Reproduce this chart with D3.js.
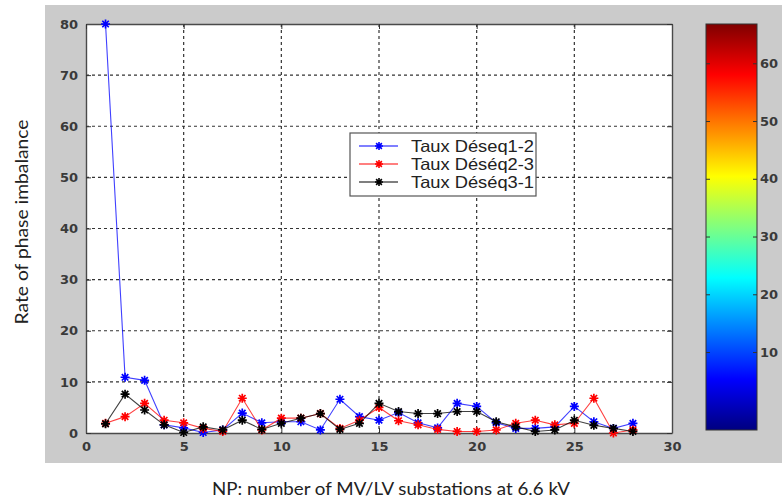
<!DOCTYPE html>
<html>
<head>
<meta charset="utf-8">
<script src="https://cdn.jsdelivr.net/npm/d3@7"></script>
<style>
  html, body { margin: 0; padding: 0; background: #ffffff; }
  svg { display: block; }
  .tick text { font-family: "DejaVu Sans", Verdana, sans-serif; font-weight: bold; }
</style>
</head>
<body>
<svg id="chart" width="782" height="504"></svg>
<script>
// Substation index (NP) on the horizontal axis
const stations = d3.range(1, 29);

// Phase imbalance rates (%) for each pair of phases
const deseq12 = [80, 10.9, 10.3, 1.6, 1.0, 0.1, 0.6, 3.9, 2.0, 2.2, 2.2, 0.6, 6.6, 3.2, 2.5, 4.0, 2.0, 1.0, 5.8, 5.2, 2.0, 0.9, 0.9, 1.2, 5.2, 2.2, 0.9, 1.9];
const deseq23 = [1.9, 3.2, 5.8, 2.5, 2.0, 0.9, 0.3, 6.8, 0.6, 2.9, 2.9, 3.8, 0.9, 2.5, 5.0, 2.4, 1.6, 0.7, 0.3, 0.3, 0.6, 1.9, 2.5, 1.6, 1.9, 6.8, 0.0, 0.6];
const deseq31 = [1.8, 7.6, 4.5, 1.6, 0.1, 1.2, 0.6, 2.5, 0.7, 1.9, 2.9, 3.8, 0.7, 1.9, 5.8, 4.2, 3.8, 3.8, 4.2, 4.2, 2.2, 1.2, 0.3, 0.6, 2.5, 1.5, 0.9, 0.3];

const seriesNames = ["Taux Déseq1-2", "Taux Déséq2-3", "Taux Déséq3-1"];
const seriesColors = ["#0000ff", "#ff0000", "#000000"];
const seriesValues = [deseq12, deseq23, deseq31];

const xTicks = [0, 5, 10, 15, 20, 25, 30];
const yTicks = [0, 10, 20, 30, 40, 50, 60, 70, 80];
const cbTicks = [10, 20, 30, 40, 50, 60];
const cbDomain = [-3.5, 66.8];

const xTitle = "NP: number of MV/LV substations at 6.6 kV";
const yTitle = "Rate of phase imbalance";

const svg = d3.select("#chart");

// Figure background
svg.append("rect").attr("x", 45).attr("y", 5).attr("width", 737).attr("height", 458)
  .attr("fill", "#cbcbcb");

const plot = { left: 86, right: 672, top: 24, bottom: 433 };
const x = d3.scaleLinear().domain([0, 30]).range([plot.left, plot.right]);
const y = d3.scaleLinear().domain([0, 80]).range([plot.bottom, plot.top]);

svg.append("rect").attr("x", plot.left).attr("y", plot.top)
  .attr("width", plot.right - plot.left).attr("height", plot.bottom - plot.top)
  .attr("fill", "#ffffff");

// Dotted grid
const grid = svg.append("g").attr("stroke", "#333").attr("stroke-width", 1.2)
  .attr("stroke-dasharray", "3,3");
grid.selectAll(".gx").data(xTicks.slice(1, -1)).join("line")
  .attr("x1", d => x(d)).attr("x2", d => x(d))
  .attr("y1", plot.top).attr("y2", plot.bottom);
grid.selectAll(".gy").data(yTicks.slice(1, -1)).join("line")
  .attr("y1", d => y(d)).attr("y2", d => y(d))
  .attr("x1", plot.left).attr("x2", plot.right);

// Axes with inward ticks
svg.append("g").attr("transform", `translate(0,${plot.bottom})`)
  .call(d3.axisBottom(x).tickValues(xTicks).tickSizeInner(-5).tickSizeOuter(0).tickPadding(9));
svg.append("g").attr("transform", `translate(${plot.left},0)`)
  .call(d3.axisLeft(y).tickValues(yTicks).tickSizeInner(-5).tickSizeOuter(0).tickPadding(8));
svg.append("g").attr("transform", `translate(0,${plot.top})`)
  .call(d3.axisTop(x).tickValues(xTicks).tickSizeInner(-5).tickSizeOuter(0).tickFormat(""));
svg.append("g").attr("transform", `translate(${plot.right},0)`)
  .call(d3.axisRight(y).tickValues(yTicks).tickSizeInner(-5).tickSizeOuter(0).tickFormat(""));
svg.selectAll(".domain").attr("stroke", "#4a4a4a").attr("stroke-width", 1.4);
svg.selectAll(".tick line").attr("stroke", "#333");
svg.selectAll(".tick text").attr("fill", "#3a3a3a").attr("font-size", 13);

// Series lines with star markers
const starPath = (s) => {
  const r = s, d = s * 0.72;
  return `M${-r},0L${r},0M0,${-r}L0,${r}M${-d},${-d}L${d},${d}M${-d},${d}L${d},${-d}`;
};
const line = d3.line().x((d, i) => x(stations[i])).y(d => y(d));

seriesValues.forEach((vals, k) => {
  const g = svg.append("g");
  g.append("path").datum(vals).attr("d", line)
    .attr("fill", "none").attr("stroke", seriesColors[k]).attr("stroke-width", 1.1)
    .attr("stroke-opacity", 0.75);
  g.selectAll("path.m").data(vals).join("path").attr("class", "m")
    .attr("transform", (d, i) => `translate(${x(stations[i])},${y(d)})`)
    .attr("d", starPath(4.5))
    .attr("stroke", seriesColors[k]).attr("stroke-width", 1.7).attr("fill", "none");
});

// Legend
const lg = svg.append("g");
lg.append("rect").attr("x", 350).attr("y", 133).attr("width", 186).attr("height", 63)
  .attr("fill", "#ffffff").attr("stroke", "#555").attr("stroke-width", 1.2);
seriesNames.forEach((name, k) => {
  const ly = 146 + k * 18;
  lg.append("line").attr("x1", 359).attr("x2", 398).attr("y1", ly).attr("y2", ly)
    .attr("stroke", seriesColors[k]).attr("stroke-width", 1.1);
  lg.append("path").attr("transform", `translate(379,${ly})`).attr("d", starPath(4))
    .attr("stroke", seriesColors[k]).attr("stroke-width", 1.6);
  lg.append("text").attr("x", 411).attr("y", ly + 6).text(name)
    .attr("font-family", "Arial, 'Liberation Sans', sans-serif").attr("font-size", 16.5)
    .attr("textLength", 123).attr("lengthAdjust", "spacingAndGlyphs")
    .attr("fill", "#222");
});

// Colorbar (jet colormap)
const jet = (t) => {
  const c = (v) => Math.max(0, Math.min(1, v));
  const r = c(1.5 - Math.abs(4 * t - 3));
  const g = c(1.5 - Math.abs(4 * t - 2));
  const b = c(1.5 - Math.abs(4 * t - 1));
  return d3.rgb(r * 255, g * 255, b * 255).toString();
};
const cb = { left: 706, right: 757, top: 24, bottom: 430 };
const cy = d3.scaleLinear().domain(cbDomain).range([cb.bottom, cb.top]);
const defs = svg.append("defs");
const grad = defs.append("linearGradient").attr("id", "jetGrad")
  .attr("x1", 0).attr("y1", 1).attr("x2", 0).attr("y2", 0);
d3.range(0, 65).forEach(i => {
  grad.append("stop").attr("offset", i / 64).attr("stop-color", jet(i / 64));
});
svg.append("rect").attr("x", cb.left).attr("y", cb.top)
  .attr("width", cb.right - cb.left).attr("height", cb.bottom - cb.top)
  .attr("fill", "url(#jetGrad)").attr("stroke", "#333").attr("stroke-width", 1);
svg.append("g").attr("transform", `translate(${cb.right},0)`)
  .call(d3.axisRight(cy).tickValues(cbTicks).tickSizeInner(-4).tickSizeOuter(0).tickPadding(3))
  .call(g => g.select(".domain").remove())
  .call(g => g.selectAll(".tick line").attr("stroke", "#333"))
  .call(g => g.selectAll(".tick text").attr("fill", "#3a3a3a").attr("font-size", 13));
svg.append("g").attr("transform", `translate(${cb.left},0)`)
  .call(d3.axisLeft(cy).tickValues(cbTicks).tickSizeInner(-4).tickSizeOuter(0).tickFormat(""))
  .call(g => g.select(".domain").remove())
  .call(g => g.selectAll(".tick line").attr("stroke", "#333"));

// Axis titles
svg.append("text").attr("x", 391).attr("y", 495).attr("text-anchor", "middle")
  .attr("font-family", "Lato, 'Open Sans', sans-serif").attr("font-size", 18)
  .attr("textLength", 358).attr("lengthAdjust", "spacingAndGlyphs")
  .attr("fill", "#222").text(xTitle);
svg.append("text").attr("transform", "translate(28,222) rotate(-90)").attr("text-anchor", "middle")
  .attr("font-family", "Lato, 'Open Sans', sans-serif").attr("font-size", 18)
  .attr("textLength", 205).attr("lengthAdjust", "spacingAndGlyphs")
  .attr("fill", "#222").text(yTitle);
</script>
</body>
</html>
